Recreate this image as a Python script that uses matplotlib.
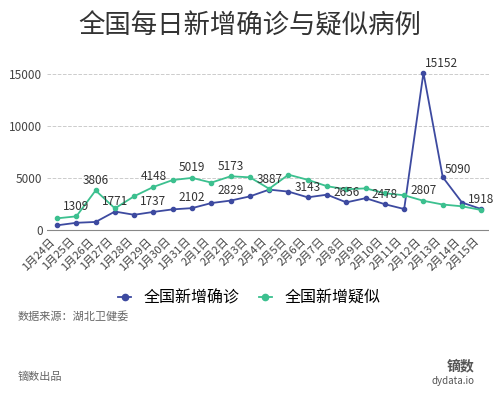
import matplotlib.pyplot as plt

plt.rcParams['font.family'] = ['Noto Sans CJK SC', 'DejaVu Sans']

dates = [f"1月{d}日" for d in range(24, 32)] + [f"2月{d}日" for d in range(1, 16)]
confirmed = [444, 688, 769, 1771, 1459, 1737, 1982, 2102, 2590, 2829, 3235, 3887,
             3694, 3143, 3399, 2656, 3062, 2478, 2015, 15152, 5090, 2641, 2009]
suspected = [1118, 1309, 3806, 2077, 3248, 4148, 4812, 5019, 4562, 5173, 5072, 3971,
             5328, 4833, 4214, 3916, 4008, 3536, 3342, 2807, 2450, 2277, 1918]
conf_labels = [3, 5, 7, 9, 11, 13, 15, 17, 19, 20]
susp_labels = [1, 2, 5, 7, 9, 19, 22]

blue = "#3d4aa0"
green = "#3cc08f"

fig = plt.figure(figsize=(4.99, 4.0), dpi=100)
ax = fig.add_axes([0.095, 0.42, 0.885, 0.42])
x = list(range(len(dates)))
ax.plot(x, confirmed, color=blue, lw=1.3, marker="o", ms=3, label="全国新增确诊")
ax.plot(x, suspected, color=green, lw=1.3, marker="o", ms=3, label="全国新增疑似")
for i in conf_labels:
    if i == 19:
        ax.text(i + 0.1, confirmed[i] + 250, str(confirmed[i]), ha="left", va="bottom", fontsize=8.5, color="#333333")
    elif i == 20:
        ax.text(i + 0.8, confirmed[i] + 150, str(confirmed[i]), ha="center", va="bottom", fontsize=8.5, color="#333333")
    else:
        ax.text(i, confirmed[i] + 350, str(confirmed[i]), ha="center", va="bottom", fontsize=8.5, color="#333333")
for i in susp_labels:
    ax.text(i, suspected[i] + 350, str(suspected[i]), ha="center", va="bottom", fontsize=8.5, color="#333333")

ax.set_xlim(-0.5, len(dates) - 0.6)
ax.set_ylim(-200, 16000)
ax.set_yticks([0, 5000, 10000, 15000])
ax.set_xticks(x)
ax.set_xticklabels(dates, rotation=45, ha="right", fontsize=8, color="#444444")
ax.tick_params(axis="y", labelsize=8.5, colors="#444444", length=0)
ax.tick_params(axis="x", length=0, pad=3)
ax.grid(axis="y", color="#cccccc", ls="--", lw=0.7)
for s in ax.spines.values():
    s.set_visible(False)
ax.axhline(0, color="#888888", lw=0.8)

fig.text(0.5, 0.935, "全国每日新增确诊与疑似病例", ha="center", va="center", fontsize=19, color="#333333")
fig.legend(loc="center", bbox_to_anchor=(0.5, 0.255), ncol=2, frameon=False, fontsize=11.5,
           handlelength=0.8, markerscale=1.5, columnspacing=1.2)
fig.text(0.035, 0.2, "数据来源：湖北卫健委", fontsize=8, color="#666666")
fig.text(0.035, 0.05, "镝数出品", fontsize=8, color="#666666")
fig.text(0.95, 0.075, "镝数", fontsize=10, color="#555555", ha="right", weight="bold")
fig.text(0.95, 0.04, "dydata.io", fontsize=7, color="#555555", ha="right")

fig.savefig("out.png")
